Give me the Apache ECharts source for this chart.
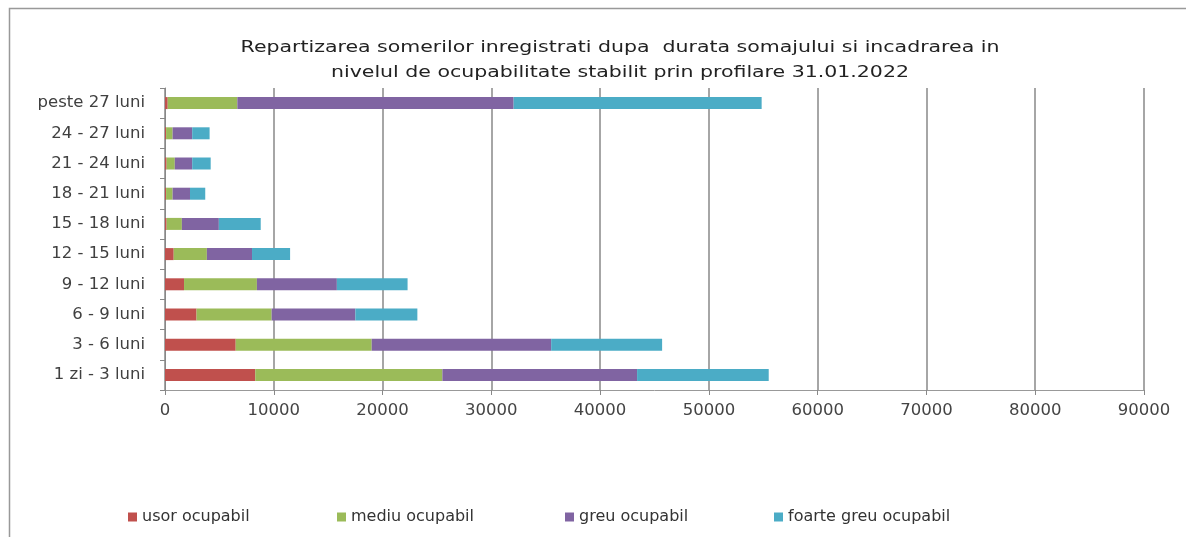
<!DOCTYPE html>
<html>
<head>
<meta charset="utf-8">
<script src="https://cdn.jsdelivr.net/npm/echarts@6/dist/echarts.min.js"></script>
<style>
html,body{margin:0;padding:0;background:#fff;}
#chart{width:1186px;height:537px;}
</style>
</head>
<body>
<div id="chart"></div>
<script>
const categories = ['1 zi - 3 luni','3 - 6 luni','6 - 9 luni','9 - 12 luni','12 - 15 luni','15 - 18 luni','18 - 21 luni','21 - 24 luni','24 - 27 luni','peste 27 luni'];
const usor   = [8300, 6500, 2900, 1750, 800, 150, 100, 150, 100, 250];
const mediu  = [17200, 12500, 6900, 6700, 3050, 1400, 600, 750, 600, 6400];
const greu   = [17900, 16500, 7700, 7350, 4150, 3400, 1600, 1600, 1800, 25400];
const foarte = [12100, 10200, 5700, 6500, 3500, 3850, 1400, 1700, 1600, 22800];
const seriesNames = ['usor ocupabil','mediu ocupabil','greu ocupabil','foarte greu ocupabil'];
const colors = ['#C0504D','#9BBB59','#8064A2','#4BACC6'];
const titleLine1 = 'Repartizarea somerilor inregistrati dupa  durata somajului si incadrarea in';
const titleLine2 = 'nivelul de ocupabilitate stabilit prin profilare 31.01.2022';

const FONT = "'DejaVu Sans', sans-serif";
const chart = echarts.init(document.getElementById('chart'));
const dataSets = [usor, mediu, greu, foarte];
const legendLefts = [123, 332, 560, 769];

chart.setOption({
  animation: false,
  color: colors,
  legend: seriesNames.map((n, i) => ({
    data: [n], left: legendLefts[i], top: 504, itemWidth: 9, itemHeight: 9, icon: 'rect', itemGap: 4,
    textStyle: {fontFamily: FONT, fontSize: 16, color: '#333'}
  })),
  grid: {left: 165, right: 42, top: 88, bottom: 147, containLabel: false},
  xAxis: {
    type: 'value', min: 0, max: 90000, interval: 10000,
    axisLine: {show: true, lineStyle: {color: '#999', width: 1}},
    axisTick: {show: true, length: 5, lineStyle: {color: '#888'}},
    axisLabel: {fontFamily: FONT, fontSize: 16.5, color: '#444', margin: 12, formatter: v => String(v)},
    splitLine: {show: true, lineStyle: {color: '#888', width: 1.5}}
  },
  yAxis: {
    type: 'category', data: categories,
    axisLine: {show: true, lineStyle: {color: '#888', width: 1}},
    axisTick: {show: true, length: 5, lineStyle: {color: '#888'}},
    axisLabel: {fontFamily: FONT, fontSize: 16.5, color: '#404040', margin: 20}
  },
  graphic: [
    {
      type: 'polyline', shape: {points: [[9.5, 545], [9.5, 8.5], [1200, 8.5]]},
      style: {stroke: '#999', lineWidth: 1.5, fill: null}
    },
    {
      type: 'text', x: 620, y: 48, scaleX: 1.28,
      style: {text: titleLine1, font: "16px 'DejaVu Sans'", fill: '#222', align: 'center', verticalAlign: 'middle'}
    },
    {
      type: 'text', x: 620, y: 73, scaleX: 1.28,
      style: {text: titleLine2, font: "16px 'DejaVu Sans'", fill: '#222', align: 'center', verticalAlign: 'middle'}
    }
  ],
  series: seriesNames.map((n, i) => ({
    name: n, type: 'bar', stack: 'total', barWidth: 12,
    data: dataSets[i],
    itemStyle: {color: colors[i]}
  }))
});
</script>
</body>
</html>
